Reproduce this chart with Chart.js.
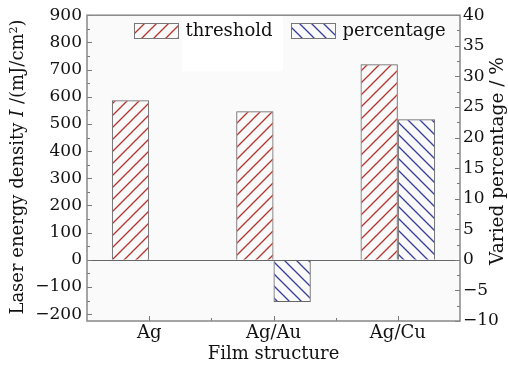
<!DOCTYPE html>
<html>
<head>
<meta charset="utf-8">
<script src="https://cdn.jsdelivr.net/npm/chart.js@4.4.1/dist/chart.umd.min.js"></script>
<style>
  html, body { margin: 0; padding: 0; background: #fff; }
  #wrap { width: 508px; height: 368px; }
</style>
</head>
<body>
<div id="wrap"><canvas id="chart" width="508" height="368"></canvas></div>
<script>
"use strict";
// data
var categories = ["Ag", "Ag/Au", "Ag/Cu"];
var threshold = [587, 547, 720];          // mJ/cm2, left axis
var percentage = [null, -6.9, 23];        // %, right axis
var leftTicks = [-200, -100, 0, 100, 200, 300, 400, 500, 600, 700, 800, 900];
var rightTicks = [-10, -5, 0, 5, 10, 15, 20, 25, 30, 35, 40];

var FONT = "'DejaVu Serif', serif";
var RED = "#b5332b", BLUE = "#363d9e";

function hatch(color, forward) {
    var c = document.createElement("canvas");
    c.width = 12; c.height = 12;
    var g = c.getContext("2d");
    g.strokeStyle = color;
    g.lineWidth = 1.3;
    g.beginPath();
    if (forward) {
        g.moveTo(-2, 14); g.lineTo(14, -2);
        g.moveTo(-2, 2); g.lineTo(2, -2);
        g.moveTo(10, 14); g.lineTo(14, 10);
    } else {
        g.moveTo(-2, -2); g.lineTo(14, 14);
        g.moveTo(10, -2); g.lineTo(14, 2);
        g.moveTo(-2, 10); g.lineTo(2, 14);
    }
    g.stroke();
    return document.getElementById("chart").getContext("2d").createPattern(c, "repeat");
}
var redHatch = hatch(RED, true);
var blueHatch = hatch(BLUE, false);

var decor = {
    id: "decor",
    beforeDraw: function (chart) {
        var ctx = chart.ctx, a = chart.chartArea;
        ctx.save();
        ctx.fillStyle = "#fff";
        ctx.fillRect(0, 0, chart.width, chart.height);
        ctx.fillStyle = "#fafafa";
        ctx.fillRect(a.left, a.top, a.right - a.left, a.bottom - a.top);
        ctx.fillStyle = "#fff";
        ctx.fillRect(182, a.top + 1, 101, 55);
        ctx.restore();
    },
    afterDatasetsDraw: function (chart) {
        var ctx = chart.ctx, a = chart.chartArea;
        var y = chart.scales.y, y1 = chart.scales.y1, x = chart.scales.x;
        ctx.save();
        ctx.strokeStyle = "#666";
        ctx.lineWidth = 1.2;
        // zero line
        var z = Math.round(y.getPixelForValue(0)) + 0.5;
        ctx.beginPath(); ctx.moveTo(a.left, z); ctx.lineTo(a.right, z); ctx.stroke();
        // inward ticks
        ctx.strokeStyle = "#777";
        ctx.lineWidth = 1;
        ctx.beginPath();
        var v, p;
        for (v = -200; v <= 900; v += 50) {
            p = Math.round(y.getPixelForValue(v)) + 0.5;
            ctx.moveTo(a.left, p); ctx.lineTo(a.left + (v % 100 === 0 ? 5 : 3), p);
        }
        for (v = -10; v <= 40; v += 2.5) {
            p = Math.round(y1.getPixelForValue(v)) + 0.5;
            ctx.moveTo(a.right, p); ctx.lineTo(a.right - (v % 5 === 0 ? 5 : 3), p);
        }
        for (var i = 0; i < categories.length; i++) {
            p = Math.round(x.getPixelForValue(i)) + 0.5;
            ctx.moveTo(p, a.bottom); ctx.lineTo(p, a.bottom - 5);
            if (i < categories.length - 1) {
                p = Math.round((x.getPixelForValue(i) + x.getPixelForValue(i + 1)) / 2) + 0.5;
                ctx.moveTo(p, a.bottom); ctx.lineTo(p, a.bottom - 3);
            }
        }
        ctx.stroke();
        // frame
        ctx.strokeStyle = "#888";
        ctx.lineWidth = 1.5;
        ctx.strokeRect(a.left, a.top, a.right - a.left, a.bottom - a.top);

        // legend
        var items = [
            { box: 134.5, text: "threshold", fill: redHatch },
            { box: 291.5, text: "percentage", fill: blueHatch }
        ];
        ctx.font = "18px " + FONT;
        ctx.textBaseline = "middle";
        ctx.textAlign = "left";
        items.forEach(function (it) {
            ctx.fillStyle = it.fill;
            ctx.fillRect(it.box, 23.5, 44, 15);
            ctx.strokeStyle = "#777";
            ctx.lineWidth = 1;
            ctx.strokeRect(it.box, 23.5, 44, 15);
            ctx.fillStyle = "#111";
            ctx.fillText(it.text, it.box + 51, 31);
        });

        // left title with italic I and superscript
        ctx.textBaseline = "alphabetic";
        ctx.save();
        ctx.translate(23, 167);
        ctx.rotate(-Math.PI / 2);
        var parts = [
            { t: "Laser energy density ", f: "18px " + FONT, dy: 0 },
            { t: "I", f: "italic 18px " + FONT, dy: 0 },
            { t: " /(mJ/cm", f: "18px " + FONT, dy: 0 },
            { t: "2", f: "11px " + FONT, dy: -6 },
            { t: ")", f: "18px " + FONT, dy: 0 }
        ];
        var total = 0;
        parts.forEach(function (pt) { ctx.font = pt.f; total += ctx.measureText(pt.t).width; });
        var px = -total / 2;
        ctx.fillStyle = "#111";
        parts.forEach(function (pt) {
            ctx.font = pt.f;
            ctx.fillText(pt.t, px, pt.dy);
            px += ctx.measureText(pt.t).width;
        });
        ctx.restore();

        // right title
        ctx.save();
        ctx.translate(503, 161);
        ctx.rotate(-Math.PI / 2);
        ctx.font = "18.5px " + FONT;
        ctx.textAlign = "center";
        ctx.fillStyle = "#111";
        ctx.fillText("Varied percentage / %", 0, 0);
        ctx.restore();
        ctx.restore();
    }
};

new Chart(document.getElementById("chart"), {
    type: "bar",
    data: {
        labels: categories,
        datasets: [{
            label: "threshold",
            data: threshold,
            yAxisID: "y",
            backgroundColor: redHatch,
            borderColor: "#666",
            borderWidth: 1
        }, {
            label: "percentage",
            data: percentage,
            yAxisID: "y1",
            backgroundColor: blueHatch,
            borderColor: "#666",
            borderWidth: 1
        }]
    },
    options: {
        responsive: false,
        animation: false,
        categoryPercentage: 0.6,
        barPercentage: 1.0,
        layout: { padding: { top: 15, left: 0, right: 0, bottom: 0 } },
        plugins: { legend: { display: false }, tooltip: { enabled: false } },
        scales: {
            x: {
                offset: true,
                grid: { display: false, drawTicks: false },
                border: { display: false },
                ticks: { color: "#111", font: { family: FONT, size: 18 }, padding: 2 },
                title: { display: true, text: "Film structure", color: "#111", font: { family: FONT, size: 18 }, padding: { top: 0, bottom: 3 } },
                afterFit: function (s) { s.height = 47; }
            },
            y: {
                position: "left",
                min: -225,
                max: 900,
                grid: { display: false, drawTicks: false },
                border: { display: false },
                afterBuildTicks: function (s) { s.ticks = leftTicks.map(function (v) { return { value: v }; }); },
                ticks: {
                    color: "#111", font: { family: FONT, size: 17 }, padding: 5,
                    callback: function (v) { return v < 0 ? "\u2212" + Math.abs(v) : String(v); }
                },
                afterFit: function (s) { s.width = 87; }
            },
            y1: {
                position: "right",
                min: -10,
                max: 40,
                grid: { display: false, drawTicks: false },
                border: { display: false },
                afterBuildTicks: function (s) { s.ticks = rightTicks.map(function (v) { return { value: v }; }); },
                ticks: {
                    color: "#111", font: { family: FONT, size: 17 }, padding: 3,
                    callback: function (v) { return v < 0 ? "\u2212" + Math.abs(v) : String(v); }
                },
                afterFit: function (s) { s.width = 48; }
            }
        }
    },
    plugins: [decor]
});
</script>
</body>
</html>
